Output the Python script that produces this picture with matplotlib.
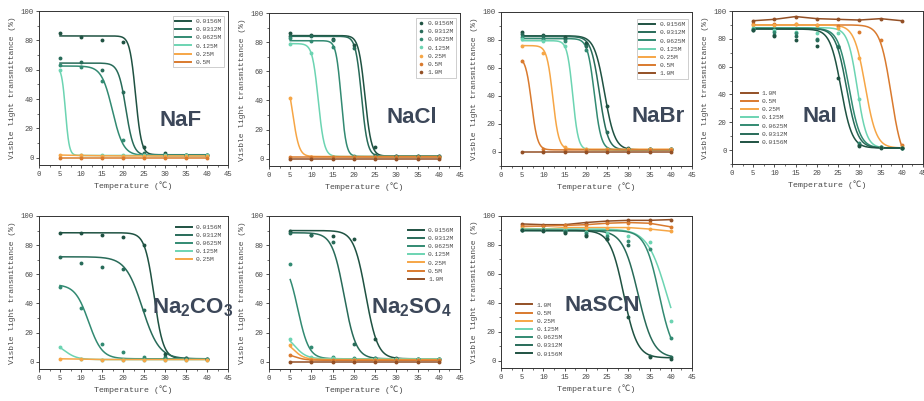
import numpy as np
import matplotlib
matplotlib.use("Agg")
import matplotlib.pyplot as plt
from matplotlib.lines import Line2D
from matplotlib.ticker import MultipleLocator

plt.rcParams["mathtext.fontset"] = "custom"
plt.rcParams["mathtext.rm"] = "Liberation Sans:bold"
plt.rcParams["mathtext.it"] = "Liberation Sans:bold"
plt.rcParams["mathtext.bf"] = "Liberation Sans:bold"

MONO = ["Liberation Mono", "DejaVu Sans Mono", "Noto Sans CJK SC"]

# Measurement temperatures (℃)
TEMPS = [5, 10, 15, 20, 25, 30, 35, 40]

CONC_COLORS = {
    "0.0156M": "#1f5242",
    "0.0312M": "#286b59",
    "0.0625M": "#328a72",
    "0.125M": "#6cd4b2",
    "0.25M": "#f6a646",
    "0.5M": "#d97a2e",
    "1.0M": "#935026",
}

# Boltzmann fit parameters per series: (A1 top, A2 bottom, x0, dx); None = connect points

# --- NaF ---
NAF_LABELS = ["0.0156M", "0.0312M", "0.0625M", "0.125M", "0.25M", "0.5M"]
NAF_POINTS = [
    [85, 82.5, 80.5, 79, 7.5, 3, 2, 2],
    [68, 65, 60, 45, 3, 2, 1.5, 1.5],
    [63, 62, 52.5, 12, 2, 1.5, 1.5, 1.5],
    [60, 2, 1.5, 1.5, 1.5, 1.5, 1.5, 1.5],
    [1.8, 1.5, 1.3, 1.2, 1.2, 1.2, 1.2, 1.2],
    [0, 0, 0, 0, 0, 0, 0, 0],
]
NAF_FITS = [(83, 2, 23.0, 0.7), (64.5, 1.5, 20.7, 0.9), (62.5, 1.5, 17.5, 1.3),
            (62, 1.5, 6.3, 0.45), None, None]

# --- NaCl ---
NACL_LABELS = ["0.0156M", "0.0312M", "0.0625M", "0.125M", "0.25M", "0.5M", "1.0M"]
NACL_POINTS = [
    [86.5, 85, 82, 78, 8, 2, 2, 2],
    [84.5, 84.5, 81.5, 76, 2.5, 2, 2, 2],
    [83, 81, 77, 2, 1.5, 1.5, 1.5, 1.5],
    [79, 72.5, 1.5, 1.5, 1.5, 1.5, 1.5, 1.5],
    [42, 1.5, 1.5, 1.5, 1.5, 1.5, 1.5, 1.5],
    [1, 1, 1, 1, 1, 1, 1, 1],
    [0, 0, 0, 0, 0, 0, 0, 0],
]
NACL_FITS = [(84.5, 1.8, 22.6, 0.75), (84, 1.8, 21.8, 0.7), (81, 1.5, 17.0, 0.6),
             (79, 1.5, 11.6, 0.7), (60, 1.5, 5.6, 0.75), None, None]

# --- NaBr ---
NABR_LABELS = ["0.0156M", "0.0312M", "0.0625M", "0.125M", "0.25M", "0.5M", "1.0M"]
NABR_POINTS = [
    [86, 83.5, 82, 78, 32.5, 3, 2, 2],
    [84, 83, 81, 76, 14.5, 2, 2, 2],
    [82, 80.5, 79.5, 73, 2.5, 2, 2, 2],
    [80.5, 79.5, 75.5, 2, 1.5, 1.5, 1.5, 1.5],
    [76, 71, 3.5, 2, 2, 2, 2, 2],
    [65, 2, 1.5, 1.5, 1.5, 1.5, 1.5, 1.5],
    [0, 0, 0, 0, 0, 0, 0, 0],
]
NABR_FITS = [(83, 1.5, 24.4, 1.2), (82.5, 1.5, 23.2, 1.0), (81, 1.5, 22.0, 0.8),
             (79.5, 1.5, 16.9, 0.65), (76, 2, 12.2, 0.7), (68, 1.5, 7.2, 0.7), None]

# --- NaI ---
NAI_LABELS = ["1.0M", "0.5M", "0.25M", "0.125M", "0.0625M", "0.0312M", "0.0156M"]
NAI_POINTS = [
    [93, 94, 96, 94.5, 94, 93.5, 94.5, 93],
    [91, 91, 91, 90, 89, 85, 79, 3.5],
    [90, 90, 91, 90, 88, 66, 2, 2.5],
    [88, 86, 85, 84, 84, 36.5, 2, 1.5],
    [87, 85, 84, 80, 75, 5, 2, 1.5],
    [86.5, 83, 82, 79.5, 74, 4, 2, 1.5],
    [86, 82, 79, 75, 52, 3, 1.5, 1.5],
]
NAI_FITS = [None, (90, -10, 37.5, 1.3), (90, 1.5, 31.4, 1.3), (88, 1.5, 29.5, 1.1),
            (87.5, 1.5, 27.6, 1.3), (87.5, 1.5, 27.0, 1.3), (87, 1.5, 25.7, 1.3)]

# --- Na2CO3 ---
NA2CO3_LABELS = ["0.0156M", "0.0312M", "0.0625M", "0.125M", "0.25M"]
NA2CO3_POINTS = [
    [88.5, 88, 87, 85.5, 80, 5.5, 2.5, 2],
    [72, 67.5, 65, 63.5, 35.5, 3, 2.5, 2],
    [51.5, 37, 12, 6.5, 3, 2.5, 2, 2],
    [10, 2, 1.5, 1.5, 1.5, 1.5, 1.5, 1.5],
    [2, 1.8, 1.5, 1.5, 1.5, 1.5, 1.5, 1.5],
]
NA2CO3_FITS = [(88.5, 2, 27.4, 1.1), (72, 2, 24.6, 2.0), (53, 2, 11.8, 1.6),
               (14, 1.5, 6.0, 1.5), None]

# --- Na2SO4 ---
NA2SO4_LABELS = ["0.0156M", "0.0312M", "0.0625M", "0.125M", "0.25M", "0.5M", "1.0M"]
NA2SO4_POINTS = [
    [89.5, 87, 86, 84.5, 15.5, 2.5, 2, 2],
    [88, 87, 82, 12, 2.5, 2, 2, 2],
    [67, 10, 3.5, 2.5, 2.5, 2, 2, 2],
    [15.5, 3, 2.5, 2, 2, 2, 2, 2],
    [11.5, 2, 1.5, 1.5, 1.5, 1.5, 1.5, 1.5],
    [4.5, 1, 1, 1, 1, 1, 1, 1],
    [0, 0, 0, 0, 0, 0, 0, 0],
]
NA2SO4_FITS = [(90, 2, 22.8, 1.4), (88.5, 2, 17.7, 1.4), (70, 2, 6.8, 1.3),
               (20, 2, 6.0, 1.4), (16, 1.5, 5.6, 1.3), (6, 1, 6.0, 1.3), None]

# --- NaSCN ---
NASCN_LABELS = ["1.0M", "0.5M", "0.25M", "0.125M", "0.0625M", "0.0312M", "0.0156M"]
NASCN_POINTS = [
    [94.5, 94, 94, 95.5, 96.5, 97, 97, 97.5],
    [93, 93, 93.5, 94, 95, 95.5, 95, 92.5],
    [91.5, 91, 92, 92, 92, 92, 91, 89.5],
    [91, 91, 90.5, 89, 88, 86, 82, 27.5],
    [90.5, 90.5, 89.5, 88, 86, 83, 77, 16],
    [90, 90, 89, 87, 84, 80, 3, 2.5],
    [90, 89.5, 88.5, 86, 84, 30.5, 2.5, 1.5],
]
NASCN_FITS = [None, None, None, (91, 2, 39.0, 2.27), (90, 2, 37.25, 1.65),
              (90, 2, 32.3, 1.8), (90, 2, 28.9, 1.6)]

TITLES = ["NaF", "NaCl", "NaBr", "NaI",
          r"Na$\mathregular{_2}$CO$\mathregular{_3}$",
          r"Na$\mathregular{_2}$SO$\mathregular{_4}$", "NaSCN"]


def boltzmann(x, a1, a2, x0, dx):
    return a2 + (a1 - a2) / (1.0 + np.exp((x - x0) / dx))


FIG_W, FIG_H = 924, 401


def px_axes(fig, x0, y0, x1, y1):
    return fig.add_axes([x0 / FIG_W, 1 - y1 / FIG_H, (x1 - x0) / FIG_W, (y1 - y0) / FIG_H])


panels = [
    dict(box=(39, 11, 228, 165), ymin=-5, labels=NAF_LABELS, pts=NAF_POINTS, fits=NAF_FITS,
         title=TITLES[0], tpos=(33.6, 25), leg=dict(style="line", loc="upper right", anchor=(0.985, 0.975), frame=True)),
    dict(box=(269, 13, 460, 166), ymin=-5, labels=NACL_LABELS, pts=NACL_POINTS, fits=NACL_FITS,
         title=TITLES[1], tpos=(33.7, 28), leg=dict(style="marker", loc="upper right", anchor=(0.985, 0.975), frame=True)),
    dict(box=(501, 12, 692, 166), ymin=-10, labels=NABR_LABELS, pts=NABR_POINTS, fits=NABR_FITS,
         title=TITLES[2], tpos=(37, 25), leg=dict(style="line", loc="upper right", anchor=(0.985, 0.96), frame=True)),
    dict(box=(732, 11, 923, 164), ymin=-10, labels=NAI_LABELS, pts=NAI_POINTS, fits=NAI_FITS,
         title=TITLES[3], tpos=(20.7, 24), leg=dict(style="line", loc="lower left", anchor=(0.03, 0.1), frame=False)),
    dict(box=(39, 216, 228, 369), ymin=-5, labels=NA2CO3_LABELS, pts=NA2CO3_POINTS, fits=NA2CO3_FITS,
         title=TITLES[4], tpos=(36.5, 37), leg=dict(style="line", loc="upper right", anchor=(0.99, 0.97), frame=False)),
    dict(box=(269, 216, 460, 369), ymin=-5, labels=NA2SO4_LABELS, pts=NA2SO4_POINTS, fits=NA2SO4_FITS,
         title=TITLES[5], tpos=(33.5, 37), leg=dict(style="line", loc="upper right", anchor=(0.99, 0.95), frame=False)),
    dict(box=(501, 216, 692, 368), ymin=-5, labels=NASCN_LABELS, pts=NASCN_POINTS, fits=NASCN_FITS,
         title=TITLES[6], tpos=(23.8, 38.5), leg=dict(style="line", loc="lower left", anchor=(0.06, 0.05), frame=False)),
]

fig = plt.figure(figsize=(FIG_W / 100, FIG_H / 100), dpi=100)
fig.patch.set_facecolor("white")

xs = np.linspace(5, 40, 400)
text_col = "#4a4a4a"

for p in panels:
    ax = px_axes(fig, *p["box"])
    handles = []
    for lab, vals, fit in zip(p["labels"], p["pts"], p["fits"]):
        c = CONC_COLORS[lab]
        if fit is None:
            ax.plot(TEMPS, vals, color=c, lw=1.1, zorder=2)
        else:
            ax.plot(xs, boltzmann(xs, *fit), color=c, lw=1.1, zorder=2)
        ax.plot(TEMPS, vals, "o", color=c, ms=2.8, mew=0, zorder=3)
        if p["leg"]["style"] == "marker":
            handles.append(Line2D([], [], ls="none", marker="o", ms=2.6, mew=0, color=c, label=lab))
        else:
            handles.append(Line2D([], [], color=c, lw=1.4, label=lab))

    ax.set_xlim(0, 45)
    ax.set_ylim(p["ymin"], 100)
    ax.xaxis.set_major_locator(MultipleLocator(5))
    ax.xaxis.set_minor_locator(MultipleLocator(2.5))
    ax.yaxis.set_major_locator(MultipleLocator(20))
    ax.yaxis.set_minor_locator(MultipleLocator(10))
    ax.tick_params(which="major", direction="out", length=2.5, width=0.6, labelsize=5.2,
                   colors="#333333", labelcolor=text_col, pad=1.5)
    ax.tick_params(which="minor", direction="out", length=1.5, width=0.5, colors="#333333")
    for lbl in ax.get_xticklabels() + ax.get_yticklabels():
        lbl.set_family(MONO)
    for s in ax.spines.values():
        s.set_linewidth(0.7)
        s.set_color("#333333")
    ax.set_xlabel("Temperature (℃)", fontsize=6, family=MONO, color=text_col, labelpad=3)
    ax.set_ylabel("Visble light transmittance (%)", fontsize=5.8, family=MONO, color=text_col, labelpad=3)

    ax.text(p["tpos"][0], p["tpos"][1], p["title"], ha="center", va="center",
            fontsize=16, fontweight="bold", family="Liberation Sans", color="#3c4759", zorder=5)

    leg = ax.legend(handles=handles, loc=p["leg"]["loc"], bbox_to_anchor=p["leg"]["anchor"],
                    frameon=p["leg"]["frame"], prop={"family": MONO, "size": 4.5},
                    handlelength=2.6 if p["leg"]["style"] == "line" else 0.8,
                    handletextpad=0.6, labelspacing=0.45, borderpad=0.4, borderaxespad=0.2,
                    fancybox=False)
    if p["leg"]["frame"]:
        leg.get_frame().set_edgecolor("#aaaaaa")
        leg.get_frame().set_linewidth(0.5)
    for t in leg.get_texts():
        t.set_color(text_col)

fig.savefig("out.png", dpi=100, facecolor="white")
